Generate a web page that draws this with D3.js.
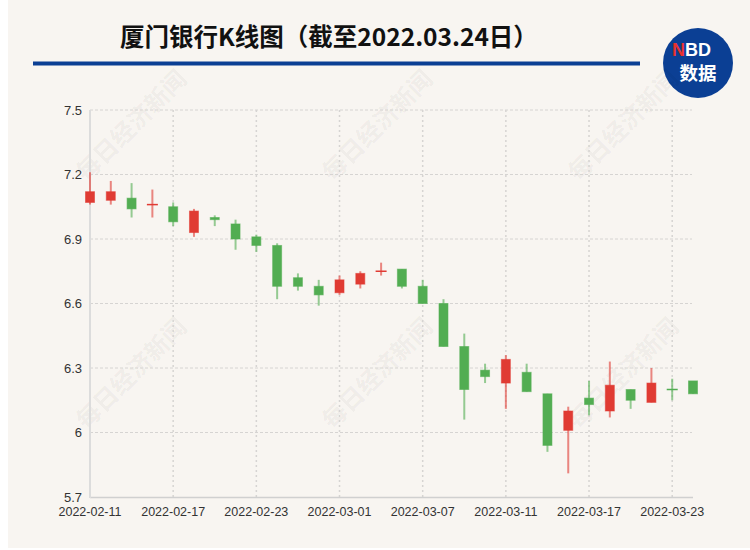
<!DOCTYPE html>
<html><head><meta charset="utf-8">
<script src="https://cdn.jsdelivr.net/npm/d3@7/dist/d3.min.js"></script>
<style>
html,body{margin:0;padding:0;background:#fff;}
svg{display:block;}
</style></head>
<body>
<svg id="chart" width="750" height="550"></svg>
<script>
const dates = ["2022-02-11","2022-02-14","2022-02-15","2022-02-16","2022-02-17","2022-02-18",
"2022-02-21","2022-02-22","2022-02-23","2022-02-24","2022-02-25","2022-02-28",
"2022-03-01","2022-03-02","2022-03-03","2022-03-04","2022-03-07","2022-03-08",
"2022-03-09","2022-03-10","2022-03-11","2022-03-14","2022-03-15","2022-03-16",
"2022-03-17","2022-03-18","2022-03-21","2022-03-22","2022-03-23","2022-03-24"];
const openVals  = [7.07,7.08,7.09,7.06,7.05,6.93,7.00,6.97,6.91,6.87,6.72,6.68,6.65,6.69,6.75,6.76,6.68,6.60,6.40,6.29,6.23,6.28,6.18,6.01,6.16,6.10,6.20,6.14,6.20,6.24];
const closeVals = [7.12,7.12,7.04,7.06,6.98,7.03,6.99,6.90,6.87,6.68,6.68,6.64,6.71,6.74,6.75,6.68,6.60,6.40,6.20,6.26,6.34,6.19,5.94,6.10,6.13,6.22,6.15,6.23,6.20,6.18];
const highVals  = [7.21,7.17,7.16,7.13,7.07,7.04,7.01,6.99,6.92,6.88,6.74,6.71,6.73,6.75,6.79,6.76,6.71,6.62,6.46,6.32,6.36,6.32,6.18,6.12,6.24,6.33,6.20,6.30,6.25,6.24];
const lowVals   = [7.06,7.06,7.00,7.00,6.96,6.91,6.96,6.85,6.84,6.62,6.66,6.59,6.64,6.67,6.73,6.67,6.60,6.40,6.06,6.23,6.11,6.19,5.91,5.81,6.08,6.07,6.11,6.14,6.15,6.18];
const yTicks = [5.7,6.0,6.3,6.6,6.9,7.2,7.5];
const xTickDates = ["2022-02-11","2022-02-17","2022-02-23","2022-03-01","2022-03-07","2022-03-11","2022-03-17","2022-03-23"];
const title = "厦门银行K线图（截至2022.03.24日）";
const watermark = "每日经济新闻";

const UP = "#e03b33", DOWN = "#52ad52";
const svg = d3.select("#chart");
svg.append("rect").attr("x",0).attr("y",0).attr("width",750).attr("height",550).attr("fill","#fff");
svg.append("rect").attr("x",8).attr("y",0).attr("width",742).attr("height",548).attr("fill","#f8f5f1");

// Title
svg.append("text").attr("x",120).attr("y",46).attr("font-family","'Noto Sans CJK SC','Noto Sans',sans-serif")
  .attr("font-weight","bold").attr("font-size",24.5).attr("fill","#111").text(title);
svg.append("rect").attr("x",33).attr("y",61.5).attr("width",607).attr("height",4).attr("fill","#0b3f94");

// Logo
const logo = svg.append("g");
logo.append("circle").attr("cx",698).attr("cy",63).attr("r",35).attr("fill","#0b3f94");
logo.append("text").attr("x",685).attr("y",56).attr("text-anchor","end")
  .attr("font-family","'Liberation Sans','Noto Sans',sans-serif").attr("font-weight","bold").attr("font-size",18)
  .attr("fill","#e8322f").text("N");
logo.append("text").attr("x",685).attr("y",56).attr("text-anchor","start")
  .attr("font-family","'Liberation Sans','Noto Sans',sans-serif").attr("font-weight","bold").attr("font-size",18)
  .attr("fill","#fff").text("BD");
logo.append("text").attr("x",698).attr("y",80).attr("text-anchor","middle")
  .attr("font-family","'Noto Sans CJK SC',sans-serif").attr("font-weight","bold").attr("font-size",18.5).attr("fill","#fff").text("数据");

// Scales
const x = d3.scalePoint().domain(dates).range([90,693]);
const y = d3.scaleLinear().domain([5.7,7.5]).range([497,110]);
const xLeft = 90, xRight = 692;

// Watermarks
const wmPos = [[130,124],[376,124],[622,124],[130,372],[376,372],[622,372]];
wmPos.forEach(p=>{
  svg.append("text").attr("transform",`translate(${p[0]},${p[1]}) rotate(-45)`)
    .attr("text-anchor","middle").attr("dominant-baseline","central")
    .attr("font-family","'Noto Sans CJK SC',sans-serif").attr("font-weight","bold").attr("font-size",24)
    .attr("fill","#000").attr("fill-opacity",0.055).text(watermark);
});

// Grid
const g = svg.append("g");
g.selectAll("line.hg").data(yTicks.filter(t=>t!==5.7)).join("line")
  .attr("x1",xLeft).attr("x2",xRight).attr("y1",d=>y(d)).attr("y2",d=>y(d))
  .attr("stroke","#d6d4d2").attr("stroke-width",1).attr("stroke-dasharray","3,2");
g.selectAll("line.vg").data(xTickDates.slice(1)).join("line")
  .attr("x1",d=>x(d)).attr("x2",d=>x(d)).attr("y1",110).attr("y2",497)
  .attr("stroke","#d6d4d2").attr("stroke-width",1.5).attr("stroke-dasharray","2,3");

// Axes lines
svg.append("line").attr("x1",xLeft).attr("x2",xRight+1).attr("y1",497.5).attr("y2",497.5).attr("stroke","#d0d0d0").attr("stroke-width",1.5);
svg.append("line").attr("x1",xLeft).attr("x2",xLeft).attr("y1",110).attr("y2",498).attr("stroke","#dcdcdc").attr("stroke-width",2);

// Axis labels
const fmt = d=> (Math.round(d*10)/10).toString();
svg.selectAll("text.yl").data(yTicks).join("text")
  .attr("x",82).attr("y",d=>y(d)+4.5).attr("text-anchor","end")
  .attr("font-family","'Liberation Sans',sans-serif").attr("font-size",13).attr("fill","#333").text(fmt);
svg.selectAll("text.xl").data(xTickDates).join("text")
  .attr("x",d=>x(d)).attr("y",515.5).attr("text-anchor","middle")
  .attr("font-family","'Liberation Sans',sans-serif").attr("font-size",12.5).attr("fill","#333").text(d=>d);

// Candles
const candles = dates.map((d,i)=>{
  let up;
  if (closeVals[i] > openVals[i]) up = true;
  else if (closeVals[i] < openVals[i]) up = false;
  else up = i>0 ? closeVals[i] >= closeVals[i-1] : true;
  return {d, o:openVals[i], c:closeVals[i], h:highVals[i], l:lowVals[i], up};
});
const cg = svg.append("g");
const bw = 10;
cg.selectAll("line.wick").data(candles).join("line")
  .attr("x1",d=>x(d.d)).attr("x2",d=>x(d.d)).attr("y1",d=>y(d.h)).attr("y2",d=>y(d.l))
  .attr("stroke",d=>d.up?UP:DOWN).attr("stroke-opacity",0.6).attr("stroke-width",2);
cg.selectAll("rect.body").data(candles.filter(d=>d.o!==d.c)).join("rect")
  .attr("x",d=>x(d.d)-bw/2+0.5).attr("width",bw-1)
  .attr("y",d=>y(Math.max(d.o,d.c))).attr("height",d=>Math.abs(y(d.o)-y(d.c)))
  .attr("fill",d=>d.up?UP:DOWN).attr("stroke",d=>d.up?UP:DOWN).attr("stroke-opacity",0.55).attr("stroke-width",1);
cg.selectAll("line.doji").data(candles.filter(d=>d.o===d.c)).join("line")
  .attr("x1",d=>x(d.d)-bw/2-0.5).attr("x2",d=>x(d.d)+bw/2+0.5).attr("y1",d=>y(d.o)).attr("y2",d=>y(d.o))
  .attr("stroke",d=>d.up?UP:DOWN).attr("stroke-width",1.5);
</script>
</body></html>
